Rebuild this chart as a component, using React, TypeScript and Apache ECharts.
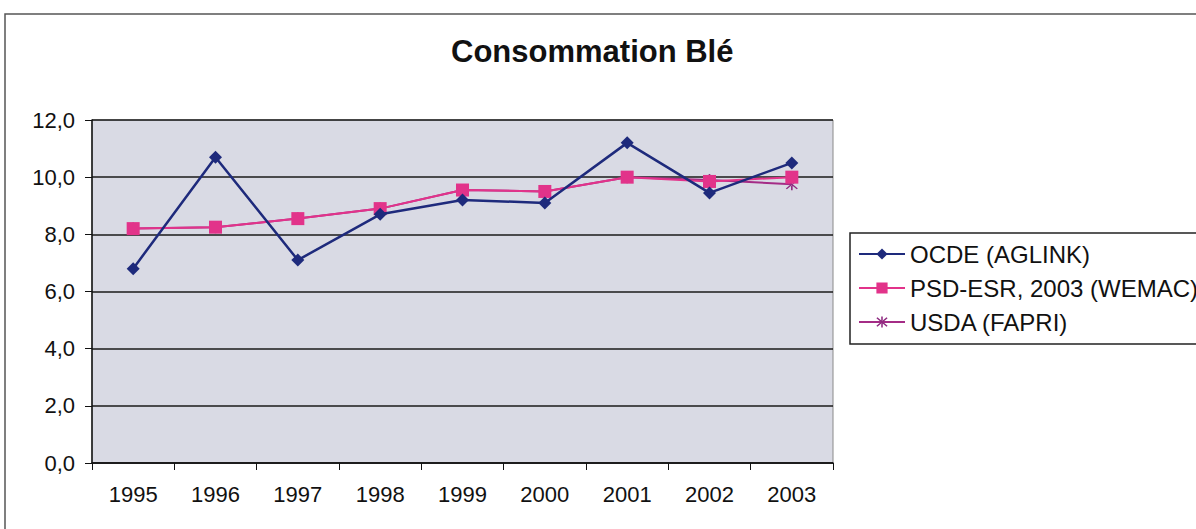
import React, { useEffect, useRef } from "react";
import * as echarts from "echarts";

const years = ["1995", "1996", "1997", "1998", "1999", "2000", "2001", "2002", "2003"];
const ocde = [6.8, 10.7, 7.1, 8.7, 9.2, 9.1, 11.2, 9.45, 10.5];
const psd = [8.2, 8.25, 8.55, 8.9, 9.55, 9.5, 10.0, 9.85, 10.0];
const usda = [8.2, 8.25, 8.55, 8.9, 9.55, 9.5, 10.0, 9.9, 9.75];
const seriesNames = ["OCDE (AGLINK)", "PSD-ESR, 2003 (WEMAC)", "USDA (FAPRI)"];

const FONT = "'Liberation Sans', Arial, sans-serif";
const STAR =
  "path://M4.4,0 H5.6 V10 H4.4 Z M0.6,1.6 L1.4,0.8 L9.4,8.4 L8.6,9.2 Z M9.4,1.6 L8.6,0.8 L0.6,8.4 L1.4,9.2 Z";

export default function App() {
  const ref = useRef<HTMLDivElement>(null);
  useEffect(() => {
    if (!ref.current) return;
    const chart = echarts.init(ref.current, null, { renderer: "svg" });
    chart.setOption({
      animation: false,
      backgroundColor: "#ffffff",
      title: {
        text: "Consommation Blé",
        left: 446,
        top: 31,
        textStyle: { fontFamily: FONT, fontSize: 31, fontWeight: "bold", color: "#111" },
      },
      graphic: [
        {
          type: "rect",
          shape: { x: 5, y: 14, width: 1400, height: 700 },
          style: { fill: "none", stroke: "#555", lineWidth: 1.5 },
          silent: true,
          z: -10,
        },
      ],
      legend: {
        orient: "vertical",
        left: 850,
        top: 233,
        padding: [9, 40, 10, 8],
        itemWidth: 46,
        itemHeight: 14,
        itemGap: 10,
        backgroundColor: "#ffffff",
        borderColor: "#222",
        borderWidth: 1.5,
        data: seriesNames,
        textStyle: { fontFamily: FONT, fontSize: 24, color: "#111", lineHeight: 24 },
      },
      grid: {
        left: 92,
        right: 363,
        top: 120,
        bottom: 66,
        show: true,
        backgroundColor: "#d9dae4",
        borderColor: "#8a8a8a",
        borderWidth: 1,
      },
      xAxis: {
        type: "category",
        data: years,
        boundaryGap: true,
        axisLine: { show: true, lineStyle: { color: "#111", width: 1.5 } },
        axisTick: { show: true, length: 7, lineStyle: { color: "#111" } },
        axisLabel: { fontFamily: FONT, fontSize: 22, color: "#111", margin: 20 },
        splitLine: { show: false },
      },
      yAxis: {
        type: "value",
        min: 0,
        max: 12,
        interval: 2,
        axisLine: { show: true, lineStyle: { color: "#111", width: 1.5 } },
        axisTick: { show: true, length: 7, lineStyle: { color: "#111" } },
        axisLabel: {
          fontFamily: FONT,
          fontSize: 22,
          color: "#111",
          margin: 17,
          formatter: (v: number) => v.toFixed(1).replace(".", ","),
        },
        splitLine: { show: true, lineStyle: { color: "#1a1a1a", width: 1.5 } },
      },
      series: [
        {
          name: seriesNames[0],
          type: "line",
          data: ocde,
          symbol: "diamond",
          symbolSize: 13,
          z: 4,
          itemStyle: { color: "#1e2a7c" },
          lineStyle: { color: "#1e2a7c", width: 2.5 },
        },
        {
          name: seriesNames[1],
          type: "line",
          data: psd,
          symbol: "rect",
          symbolSize: 13,
          z: 3,
          itemStyle: { color: "#e2338a" },
          lineStyle: { color: "#e2338a", width: 2 },
        },
        {
          name: seriesNames[2],
          type: "line",
          data: usda,
          symbol: STAR,
          symbolSize: 12,
          z: 2,
          itemStyle: { color: "#8e2a80" },
          lineStyle: { color: "#a42c86", width: 2 },
        },
      ],
    });
    return () => chart.dispose();
  }, []);
  return (
    <div
      ref={ref}
      style={{ position: "fixed", left: 0, top: 0, width: 1196, height: 529 }}
    />
  );
}
